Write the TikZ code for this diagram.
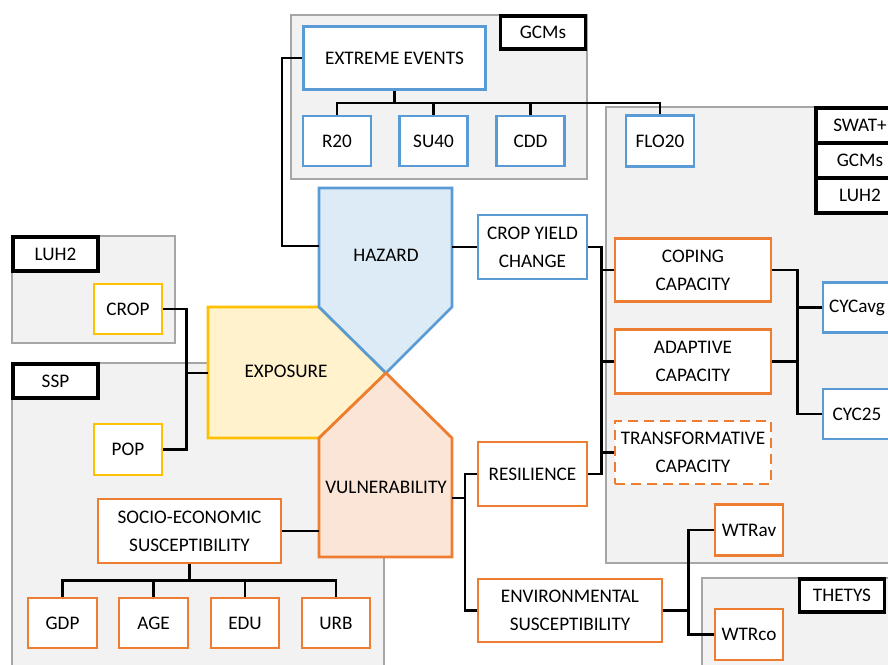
\documentclass[tikz,border=0pt]{standalone}
\usepackage{fontspec}
\setmainfont{Carlito}
\definecolor{hblue}{HTML}{5B9BD5}
\definecolor{horange}{HTML}{ED7D31}
\definecolor{hyellow}{HTML}{FFC000}
\definecolor{hbluefill}{HTML}{DDEBF7}
\definecolor{horangefill}{HTML}{FBE5D6}
\definecolor{hyellowfill}{HTML}{FFF2CC}
\definecolor{regfill}{HTML}{F2F2F2}
\definecolor{regline}{HTML}{A6A6A6}
\tikzset{
  base/.style={draw, fill=white, line width=2.8pt, align=center, inner sep=0pt,
    font=\fontsize{19.2}{28}\selectfont, text=black},
  bluebox/.style={base, draw=hblue},
  orangebox/.style={base, draw=horange},
  yellowbox/.style={base, draw=hyellow},
  labelbox/.style={base, draw=black, line width=3.2pt},
  region/.style={fill=regfill, draw=regline, line width=2.8pt},
  conn/.style={draw=black, line width=2.4pt},
  bigtext/.style={font=\fontsize{19.2}{28}\selectfont, text=black, inner sep=0pt},
}
\begin{document}
\begin{tikzpicture}[x=1pt,y=-1pt]
\useasboundingbox (0,0) rectangle (888,664);
\clip (0,0) rectangle (888,664);
% regions
\draw[region] (291,15) rectangle (587,179);
\draw[region] (606,107) rectangle (900,563);
\draw[region] (702,578) rectangle (900,700);
\draw[region] (12,236) rectangle (175,343);
\draw[region] (12,363) rectangle (384,700);
% central shapes
\draw[line width=2.8pt, draw=hyellow, fill=hyellowfill, line join=miter]
  (208,307) -- (319,307) -- (386,373) -- (319,438) -- (208,438) -- cycle;
\draw[line width=2.8pt, draw=hblue, fill=hbluefill, line join=miter]
  (319,188) -- (452,188) -- (452,307) -- (386,373) -- (319,307) -- cycle;
\draw[line width=2.8pt, draw=horange, fill=horangefill, line join=miter]
  (386,373) -- (452,438) -- (452,557) -- (319,557) -- (319,438) -- cycle;
\node[bigtext] (hazard) at (386,255) {HAZARD};
\node[bigtext] (exposure) at (286,371) {EXPOSURE};
\node[bigtext] (vuln) at (386,487) {VULNERABILITY};
\coordinate (hazW) at (319,246);
\coordinate (hazE) at (452,247);
\coordinate (expW) at (208,373);
\coordinate (vulE) at (452,498);
\coordinate (vulW) at (319,532);
% label boxes
\node[labelbox, minimum width=85pt, minimum height=33pt] (gcmA) at (543,32.5) {GCMs};
\node[labelbox, minimum width=88pt, minimum height=35pt] (swat) at (860,125.5) {SWAT+};
\node[labelbox, minimum width=88pt, minimum height=35pt] (gcmB) at (860,160.5) {GCMs};
\node[labelbox, minimum width=88pt, minimum height=35pt] (luhB) at (860,195.5) {LUH2};
\node[labelbox, minimum width=85pt, minimum height=33pt] (thetys) at (842,595.5) {THETYS};
\node[labelbox, minimum width=85pt, minimum height=34pt] (luhA) at (55.5,254) {LUH2};
\node[labelbox, minimum width=85pt, minimum height=34pt] (ssp) at (55.5,381) {SSP};
% blue boxes
\node[bluebox, minimum width=182pt, minimum height=63pt] (ee) at (394.5,58) {EXTREME EVENTS};
\node[bluebox, minimum width=68pt, minimum height=50pt] (r20) at (337,141) {R20};
\node[bluebox, minimum width=68pt, minimum height=50pt] (su40) at (433.5,141) {SU40};
\node[bluebox, minimum width=68pt, minimum height=50pt] (cdd) at (530.5,141) {CDD};
\node[bluebox, minimum width=68pt, minimum height=51pt] (flo) at (660,141) {FLO20};
\node[bluebox, minimum width=109pt, minimum height=64pt] (cyc) at (532.5,247) {CROP YIELD\\CHANGE};
\node[bluebox, minimum width=68pt, minimum height=50pt] (cycavg) at (857,307.5) {CYCavg};
\node[bluebox, minimum width=68pt, minimum height=50pt] (cyc25) at (857,414) {CYC25};
% orange boxes
\node[orangebox, minimum width=156pt, minimum height=63pt] (coping) at (693,270) {COPING\\CAPACITY};
\node[orangebox, minimum width=156pt, minimum height=64pt] (adaptive) at (693,361.5) {ADAPTIVE\\CAPACITY};
\node[orangebox, dash pattern=on 10pt off 6pt, minimum width=156pt, minimum height=63pt] (transf) at (693,452.5) {TRANSFORMATIVE\\CAPACITY};
\node[orangebox, minimum width=109pt, minimum height=64pt] (res) at (532.5,474) {RESILIENCE};
\node[orangebox, minimum width=184pt, minimum height=63pt] (env) at (570,610.5) {ENVIRONMENTAL\\SUSCEPTIBILITY};
\node[orangebox, minimum width=68pt, minimum height=51pt] (wtrav) at (749,530) {WTRav};
\node[orangebox, minimum width=68pt, minimum height=51pt] (wtrco) at (749,634.5) {WTRco};
\node[orangebox, minimum width=183pt, minimum height=64pt] (ses) at (189.5,531) {SOCIO-ECONOMIC\\SUSCEPTIBILITY};
\node[orangebox, minimum width=69pt, minimum height=50pt] (gdp) at (62.5,623) {GDP};
\node[orangebox, minimum width=69pt, minimum height=50pt] (age) at (153.5,623) {AGE};
\node[orangebox, minimum width=68pt, minimum height=50pt] (edu) at (245,623) {EDU};
\node[orangebox, minimum width=68pt, minimum height=50pt] (urb) at (336,623) {URB};
% yellow boxes
\node[yellowbox, minimum width=68pt, minimum height=50pt] (crop) at (128,309) {CROP};
\node[yellowbox, minimum width=68pt, minimum height=51pt] (pop) at (128,449.5) {POP};
% connectors
\draw[conn] (ee.west) -- ++(-20,0) |- (hazW);
\draw[conn] (ee.south) -- ++(0,12) coordinate (eeJ);
\draw[conn] (r20.north) -- (r20.north |- eeJ) -- (flo.north |- eeJ) -- (flo.north);
\draw[conn] (su40.north) -- (su40.north |- eeJ);
\draw[conn] (cdd.north) -- (cdd.north |- eeJ);
\draw[conn] (hazE) -- (cyc.west);
\draw[conn] (cyc.east) -- ++(13,0) coordinate (busR) -- (busR |- res.east) -- (res.east);
\draw[conn] (busR |- coping.west) -- (coping.west);
\draw[conn] (busR |- adaptive.west) -- (adaptive.west);
\draw[conn] (busR |- transf.west) -- (transf.west);
\draw[conn] (coping.east) -- ++(25,0) coordinate (busC) -- (busC |- cyc25.west) -- (cyc25.west);
\draw[conn] (adaptive.east) -- (adaptive.east -| busC);
\draw[conn] (busC |- cycavg.west) -- (cycavg.west);
\draw[conn] (vulE) -- ++(13,0) coordinate (busV);
\draw[conn] (res.west) -- (res.west -| busV) -- (busV |- env.west) -- (env.west);
\draw[conn] (env.east) -- ++(25,0) coordinate (busE);
\draw[conn] (wtrav.west) -- (wtrav.west -| busE) -- (busE |- wtrco.west) -- (wtrco.west);
\draw[conn] (crop.east) -- ++(23,0) coordinate (busX) -- (busX |- pop.east) -- (pop.east);
\draw[conn] (busX |- expW) -- (expW);
\draw[conn] (ses.east) -- (ses.east -| vulW);
\draw[conn] (ses.south) -- ++(0,16) coordinate (sesJ);
\draw[conn] (gdp.north) -- (gdp.north |- sesJ) -- (urb.north |- sesJ) -- (urb.north);
\draw[conn] (age.north) -- (age.north |- sesJ);
\draw[conn] (edu.north) -- (edu.north |- sesJ);
\end{tikzpicture}
\end{document}
